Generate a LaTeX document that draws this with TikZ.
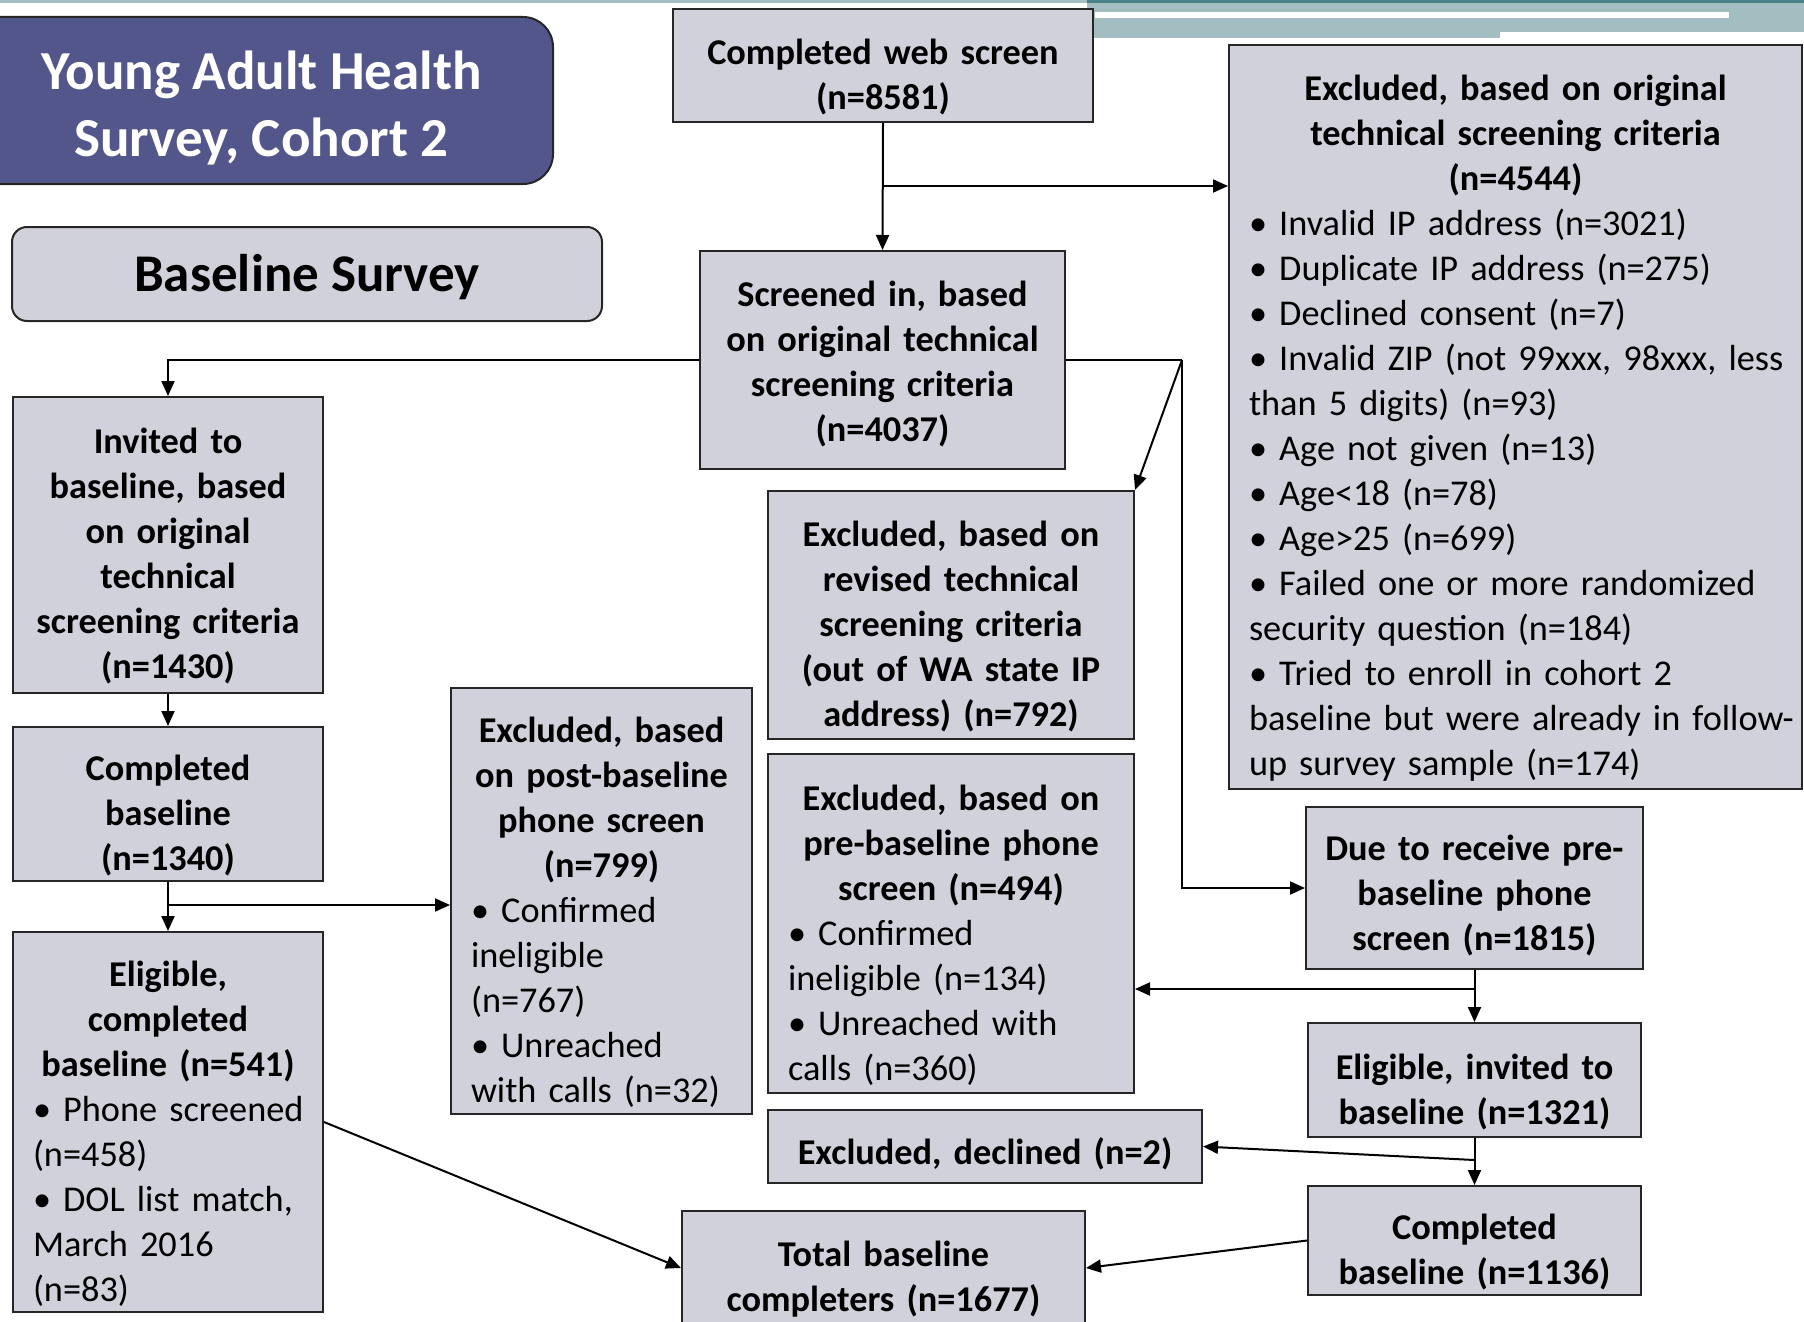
\documentclass[tikz,border=0pt]{standalone}
\usepackage{fontspec}
\setmainfont{Carlito}
\usetikzlibrary{arrows.meta,calc}
\setlength\parindent{0pt}

\definecolor{boxfill}{RGB}{208,209,218}
\definecolor{titlefill}{RGB}{83,86,138}
\definecolor{bandlight}{RGB}{162,190,193}
\definecolor{banddark}{RGB}{74,128,135}

% bold, centred heading lines inside a box
\newcommand\boxhead[1]{{\centering\bfseries #1\par}}

% box given by its corners (x1,y1,x2,y2), side padding and content;
% optional argument: how far the text sits below the box centre.
% The box is node #2, its text is node #2-t
\newcommand\flowbox[8][11.5]{%
  \pgfmathsetmacro\flbw{#5-#3}%
  \pgfmathsetmacro\flbh{#6-#4}%
  \pgfmathsetmacro\flbt{#5-#3-2*#7}%
  \node[flow, minimum width=\flbw pt, minimum height=\flbh pt]
    (#2) at ({(#3+#5)/2},{(#4+#6)/2}) {};
  \node[flowtext, text width=\flbt pt] (#2-t) at ([yshift=-#1pt]#2.center) {\raggedright #8};}

\tikzset{
  flow/.style={draw=black!85, line width=2pt, fill=boxfill, inner sep=0pt},
  flowtext/.style={inner sep=0pt, font=\fontsize{36.3}{45}\selectfont},
  conn/.style={line width=2pt, black},
  arr/.style={conn, -{Triangle[length=15pt,width=13pt]}},
}

\begin{document}
\begin{tikzpicture}[x=1pt,y=-1pt]
\useasboundingbox (0,0) rectangle (1804,1322);
\clip (0,0) rectangle (1804,1322);

% decorative band along the top edge
\fill[bandlight] (0,0) rectangle (1087,3);
\fill[bandlight] (1087,0) rectangle (1804,38);
\fill[banddark] (1087,0) rectangle (1804,3);
\fill[white] (1095,12) rectangle (1729,18);
\fill[white] (1500,32) rectangle (1804,38);

% headings
\node[draw=black!85, line width=2pt, fill=titlefill, rounded corners=30pt,
      minimum width=583pt, minimum height=167pt, inner sep=0pt]
  (title) at (261.5,100.5) {};
\node[text=white, align=center, inner sep=0pt, font=\fontsize{55}{67}\selectfont\bfseries]
  (title-t) at ([yshift=-8pt]title.center) {Young Adult Health\\Survey, Cohort 2};
\node[draw=black!85, line width=2pt, fill=boxfill, rounded corners=15pt,
      minimum width=590pt, minimum height=94pt, inner sep=0pt]
  (phase) at (307,274) {};
\node[inner sep=0pt, font=\fontsize{53}{64}\selectfont\bfseries]
  (phase-t) at ([yshift=-3.5pt]phase.center) {Baseline Survey};

% flow boxes
\flowbox{web}{673}{9}{1093}{122}{10}{\boxhead{Completed web screen\\(n=8581)}}
\flowbox{big}{1229}{45}{1802}{789}{20}{\boxhead{Excluded, based on original\\technical screening criteria\\(n=4544)}%
\mbox{• Invalid IP address (n=3021)}\\
\mbox{• Duplicate IP address (n=275)}\\
\mbox{• Declined consent (n=7)}\\
\mbox{• Invalid ZIP (not 99xxx, 98xxx, less}\\
\mbox{than 5 digits) (n=93)}\\
\mbox{• Age not given (n=13)}\\
\mbox{• Age<18 (n=78)}\\
\mbox{• Age>25 (n=699)}\\
\mbox{• Failed one or more randomized}\\
\mbox{security question (n=184)}\\
\mbox{• Tried to enroll in cohort 2}\\
\mbox{baseline but were already in follow-}\\
\mbox{up survey sample (n=174)}}
\flowbox[4.5]{scr}{700}{251}{1065}{469}{10}{\boxhead{Screened in, based\\on original technical\\screening criteria\\(n=4037)}}
\flowbox{inv}{13}{397}{323}{693}{8}{\boxhead{Invited to\\baseline, based\\on original\\technical\\screening criteria\\(n=1430)}}
\flowbox{rev}{768}{491}{1134}{739}{10}{\boxhead{Excluded, based on\\revised technical\\screening criteria\\(out of WA state IP\\address) (n=792)}}
\flowbox{comp}{13}{727}{323}{881}{10}{\boxhead{Completed\\baseline\\(n=1340)}}
\flowbox{post}{451}{688}{752}{1114}{20}{\boxhead{Excluded, based\\on post-baseline\\phone screen\\(n=799)}%
\mbox{• Confirmed}\\
\mbox{ineligible}\\
\mbox{(n=767)}\\
\mbox{• Unreached}\\
\mbox{with calls (n=32)}}
\flowbox{pre}{768}{754}{1134}{1093}{20}{\boxhead{Excluded, based on\\pre-baseline phone\\screen (n=494)}%
\mbox{• Confirmed}\\
\mbox{ineligible (n=134)}\\
\mbox{• Unreached with}\\
\mbox{calls (n=360)}}
\flowbox[8]{due}{1306}{807}{1643}{969}{10}{\boxhead{Due to receive pre-\\baseline phone\\screen (n=1815)}}
\flowbox{elig}{13}{932}{323}{1312}{20}{\boxhead{Eligible,\\completed\\baseline (n=541)}%
\mbox{• Phone screened}\\
\mbox{(n=458)}\\
\mbox{• DOL list match,}\\
\mbox{March 2016}\\
\mbox{(n=83)}}
\flowbox{einv}{1308}{1023}{1641}{1137}{10}{\boxhead{Eligible, invited to\\baseline (n=1321)}}
\flowbox[7]{decl}{768}{1110}{1202}{1183}{10}{\boxhead{Excluded, declined (n=2)}}
\flowbox{c1136}{1308}{1186}{1641}{1295}{10}{\boxhead{Completed\\baseline (n=1136)}}
\flowbox{tot}{682}{1211}{1085}{1325}{10}{\boxhead{Total baseline\\completers (n=1677)}}

% junction points of branching connectors
\coordinate (jA) at (883,186);
\coordinate (jB) at (1182,360);
\coordinate (jC) at (168,905);
\coordinate (jD) at (1474.5,989);
\coordinate (jE) at (1474.5,1160);

% connectors
\draw[arr] (web.south) -- (scr.north);
\draw[arr] (jA) -- (big.west |- jA);
\draw[arr] (scr.west) -| (inv.north);
\draw[conn] (scr.east) -- (jB);
\draw[arr] (jB) -- (rev.north east);
\draw[arr] (jB) |- (due.west);
\draw[arr] (inv.south) -- (comp.north);
\draw[arr] (comp.south) -- (elig.north);
\draw[arr] (jC) -- (post.west |- jC);
\draw[arr] (elig.east) -- (tot.west);
\draw[arr] (due.south) -- (einv.north);
\draw[arr] (jD) -- (pre.east |- jD);
\draw[arr] (einv.south) -- (c1136.north);
\draw[arr] (jE) -- (decl.east);
\draw[arr] (c1136.west) -- (tot.east);
\end{tikzpicture}
\end{document}
